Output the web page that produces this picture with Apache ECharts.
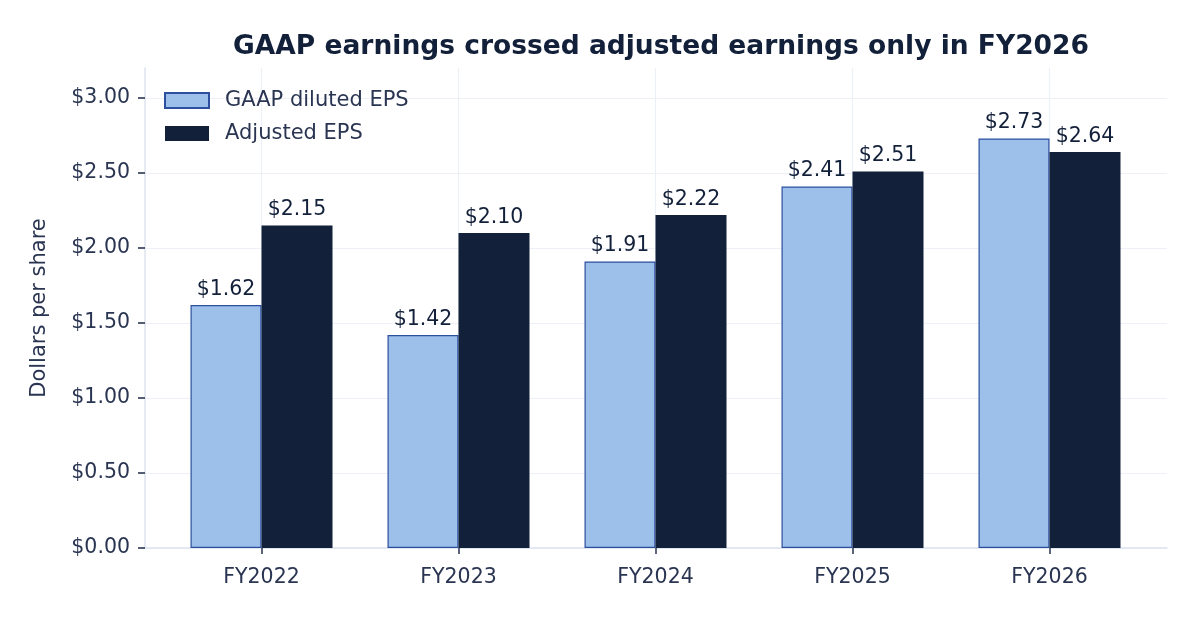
<!DOCTYPE html>
<html>
<head>
<meta charset="utf-8">
<script src="https://cdn.jsdelivr.net/npm/echarts@6/dist/echarts.min.js"></script>
<style>
    html, body { margin: 0; padding: 0; background: #ffffff; }
    #chart { width: 1200px; height: 620px; }
</style>
</head>
<body>
<div id="chart"></div>
<script>
// 数据
const years = ['FY2022', 'FY2023', 'FY2024', 'FY2025', 'FY2026'];
const gaapEps = [1.62, 1.42, 1.91, 2.41, 2.73];
const adjustedEps = [2.15, 2.10, 2.22, 2.51, 2.64];
const yTicks = [0, 0.5, 1, 1.5, 2, 2.5, 3];

const textColor = '#2a3552';
const fontFamily = 'DejaVu Sans';

function money(v) {
    return '$' + Number(v).toFixed(2);
}

let chart = echarts.init(document.getElementById('chart'));

let option = {
    backgroundColor: '#ffffff',
    textStyle: { fontFamily: fontFamily },
    title: {
        text: 'GAAP earnings crossed adjusted earnings only in FY2026',
        left: 656,
        textAlign: 'center',
        top: 29,
        textStyle: {
            fontFamily: fontFamily,
            fontSize: 26.5,
            fontWeight: 'bold',
            color: '#13203a'
        }
    },
    legend: {
        orient: 'vertical',
        left: 164,
        top: 90,
        padding: 0,
        icon: 'rect',
        itemWidth: 44,
        itemHeight: 15,
        itemGap: 12,
        textStyle: { fontFamily: fontFamily, fontSize: 21, color: textColor, padding: [2, 0, 0, 11] },
        data: ['GAAP diluted EPS', 'Adjusted EPS']
    },
    // grid 0: 坐标框和 y 轴; grid 1: 柱子和类目轴
    grid: [
        { left: 145, right: 33, top: 68, bottom: 72 },
        { left: 163, right: 52, top: 68, bottom: 72 }
    ],
    xAxis: [
        {
            gridIndex: 0,
            type: 'value',
            min: 0,
            max: 1,
            axisLine: { show: true, lineStyle: { color: '#dce3ef', width: 1.5 } },
            axisTick: { show: false },
            axisLabel: { show: false },
            splitLine: { show: false }
        },
        {
            gridIndex: 1,
            type: 'category',
            data: years,
            axisLine: { show: false },
            axisTick: { show: true, alignWithLabel: true, length: 6, lineStyle: { color: '#2a3552', width: 1.5 } },
            axisLabel: { fontSize: 20.5, color: textColor, margin: 19, fontFamily: fontFamily },
            splitLine: { show: true, alignWithLabel: true, lineStyle: { color: '#edf1f7', width: 1.2 } }
        }
    ],
    yAxis: [
        {
            gridIndex: 0,
            type: 'value',
            min: 0,
            max: 3.2,
            interval: 0.5,
            name: 'Dollars per share',
            nameLocation: 'middle',
            nameGap: 95,
            nameTextStyle: { fontFamily: fontFamily, fontSize: 21, color: textColor },
            axisLine: { show: true, lineStyle: { color: '#dce3ef', width: 1.5 } },
            axisTick: { show: true, customValues: yTicks, length: 7, lineStyle: { color: '#2a3552', width: 1.6 } },
            axisLabel: {
                customValues: yTicks,
                fontSize: 20.5,
                color: textColor,
                margin: 15,
                padding: [6, 0, 0, 0],
                fontFamily: fontFamily,
                formatter: function (v) {
                    return money(v);
                }
            },
            splitLine: { show: true, lineStyle: { color: '#edf1f7', width: 1.2 } }
        },
        {
            gridIndex: 1,
            type: 'value',
            min: 0,
            max: 3.2,
            show: false
        }
    ],
    series: [
        {
            name: 'GAAP diluted EPS',
            type: 'bar',
            xAxisIndex: 1,
            yAxisIndex: 1,
            data: gaapEps,
            barWidth: 71,
            barGap: '0%',
            itemStyle: { color: '#9dc0ea', borderColor: '#2c4f9e', borderWidth: 1.2 },
            label: {
                show: true,
                position: 'top',
                distance: 5,
                fontSize: 20.5,
                color: '#13203a',
                fontFamily: fontFamily,
                formatter: p => money(p.value)
            }
        },
        {
            name: 'Adjusted EPS',
            type: 'bar',
            xAxisIndex: 1,
            yAxisIndex: 1,
            data: adjustedEps,
            barWidth: 71,
            barGap: '0%',
            itemStyle: { color: '#13203a' },
            label: {
                show: true,
                position: 'top',
                distance: 5,
                fontSize: 20.5,
                color: '#13203a',
                fontFamily: fontFamily,
                formatter: p => money(p.value)
            }
        }
    ]
};

chart.setOption(option);
</script>
</body>
</html>
